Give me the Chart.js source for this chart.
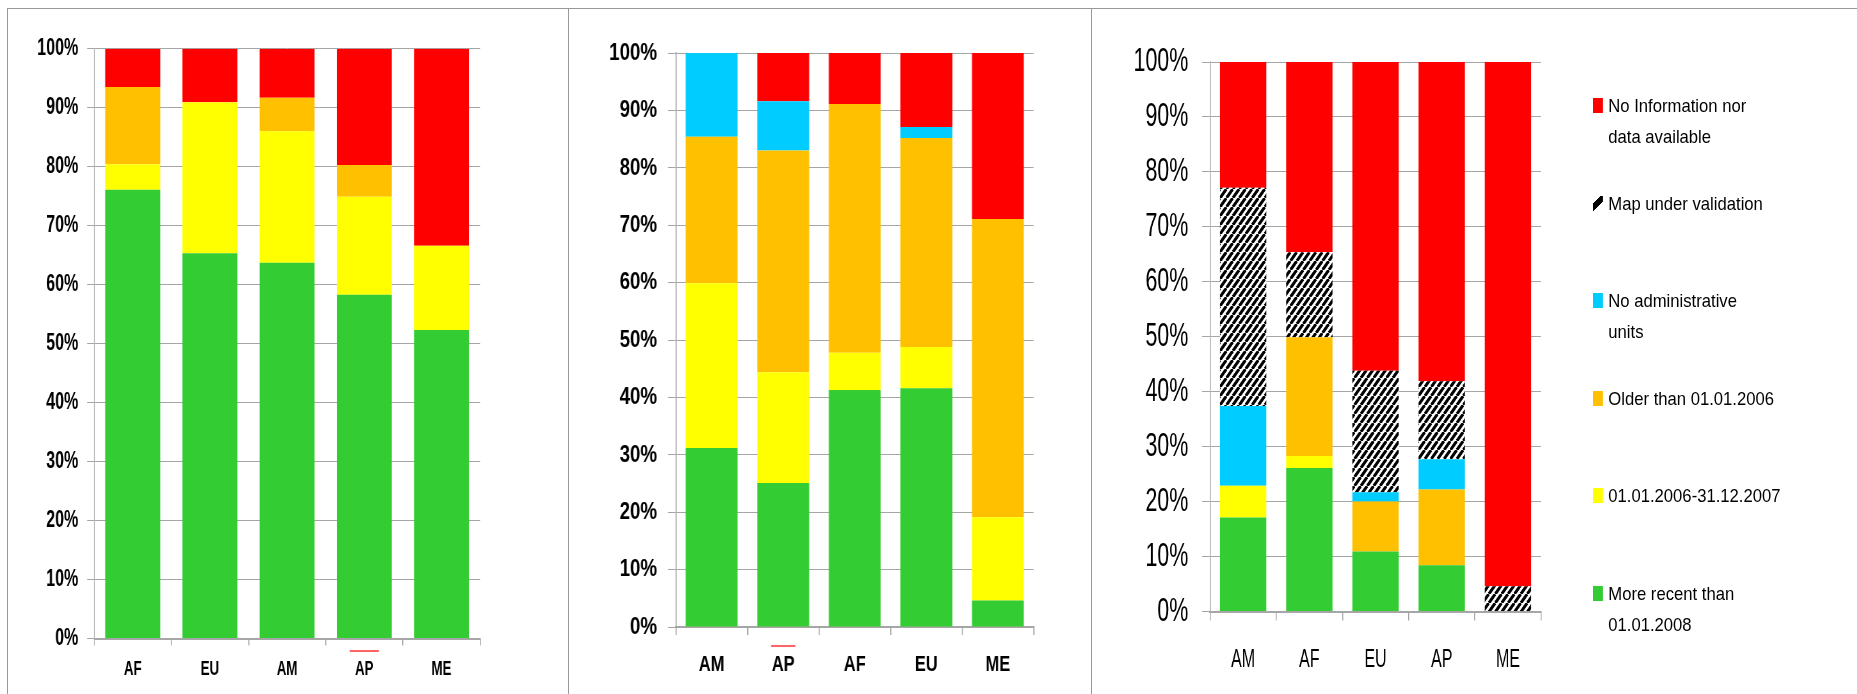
<!DOCTYPE html>
<html>
<head>
<meta charset="utf-8">
<script src="https://cdn.jsdelivr.net/npm/chart.js@4.4.1/dist/chart.umd.min.js"></script>
<style>
  body { margin: 0; width: 1857px; height: 694px; background: #fff; position: relative; overflow: hidden;
         font-family: 'Liberation Sans', Arial, sans-serif; }
  .panel { position: absolute; top: 8px; height: 686px; box-sizing: border-box; overflow: hidden;
           border-top: 1px solid #999; border-left: 1px solid #999; }
  .squeeze { position: absolute; left: 0; top: 0; height: 685px; transform-origin: 0 0; }
  #legend { position: absolute; left: 1593px; top: 90px; transform: scaleX(0.9); transform-origin: 0 0;
            font-size: 18.5px; line-height: 31px; color: #000; }
  .item { height: 97.6px; display: flex; align-items: flex-start; }
  .box { width: 11px; height: 15px; margin-top: 8px; margin-right: 6px; flex: none; }
  .txt { white-space: pre-line; }
</style>
</head>
<body>
<div class="panel" style="left:7px;width:561px">
  <div class="squeeze" style="width:823.5px;transform:scaleX(0.68)"><canvas id="chart1"></canvas></div>
</div>
<div class="panel" style="left:568px;width:523px">
  <div class="squeeze" style="width:686.8px;transform:scaleX(0.76)"><canvas id="chart2"></canvas></div>
</div>
<div class="panel" style="left:1091px;width:766px">
  <div class="squeeze" style="width:1195.3px;transform:scaleX(0.64)"><canvas id="chart3"></canvas></div>
</div>
<div id="legend"></div>

<script>
  // chart 1
  const regions1 = ['AF', 'EU', 'AM', 'AP', 'ME'];
  const green1  = [76.1, 65.3, 63.7, 58.3, 52.3];
  const yellow1 = [4.3, 25.6, 22.3, 16.6, 14.3];
  const orange1 = [13.1, 0, 5.7, 5.4, 0];
  const red1    = [6.5, 9.1, 8.3, 19.7, 33.4];

  // chart 2
  const regions2 = ['AM', 'AP', 'AF', 'EU', 'ME'];
  const green2  = [31.2, 25.1, 41.3, 41.6, 4.6];
  const yellow2 = [28.7, 19.3, 6.5, 7.2, 14.5];
  const orange2 = [25.5, 38.6, 43.3, 36.4, 52.0];
  const cyan2   = [14.6, 8.6, 0, 1.9, 0];
  const red2    = [0, 8.4, 8.9, 12.9, 28.9];

  // chart 3
  const regions3 = ['AM', 'AF', 'EU', 'AP', 'ME'];
  const green3  = [17.1, 26.1, 10.9, 8.4, 0];
  const yellow3 = [5.8, 2.2, 0, 0, 0];
  const orange3 = [0, 21.6, 9.1, 13.8, 0];
  const cyan3   = [14.5, 0, 1.7, 5.5, 0];
  const hatch3  = [39.7, 15.5, 22.1, 14.2, 4.6];
  const red3    = [22.9, 34.6, 56.2, 58.1, 95.4];

  const seriesNames = [
    'More recent than\n01.01.2008',
    '01.01.2006-31.12.2007',
    'Older than 01.01.2006',
    'No administrative\nunits',
    'Map under validation',
    'No Information nor\ndata available'
  ];
  const yTicks = [0, 10, 20, 30, 40, 50, 60, 70, 80, 90, 100];

  const GREEN = '#33cc33', YELLOW = '#ffff00', ORANGE = '#ffc000', CYAN = '#00ccff', RED = '#ff0000';
  const GRID = '#a6a6a6';
  const FONT = "'Liberation Sans', Arial, sans-serif";

  function makeHatch() {
    const w = 10, h = 9;
    const c = document.createElement('canvas');
    c.width = w; c.height = h;
    const g = c.getContext('2d');
    g.fillStyle = '#fff';
    g.fillRect(0, 0, w, h);
    g.strokeStyle = '#000';
    g.lineWidth = 3.9;
    [-w, 0, w].forEach(dx => {
      g.beginPath(); g.moveTo(dx, h); g.lineTo(dx + w, 0); g.stroke();
    });
    return g.createPattern(c, 'repeat');
  }
  const HATCH = makeHatch();

  // small red mark under one tick label, like in the source
  const underline = {
    id: 'underline',
    afterDraw(chart, args, opts) {
      const sx = chart.scales.x;
      const cx = sx.getPixelForTick(opts.index);
      const y = sx.top + opts.dy;
      const ctx = chart.ctx;
      ctx.save();
      ctx.strokeStyle = '#ff3030';
      ctx.lineWidth = 1.5;
      ctx.beginPath();
      ctx.moveTo(cx - opts.w / 2, y);
      ctx.lineTo(cx + opts.w / 2, y);
      ctx.stroke();
      ctx.restore();
    }
  };

  function ds(label, data, color, bp) {
    return { label: label, data: data, backgroundColor: color, borderWidth: 0,
             barPercentage: bp, categoryPercentage: 1 };
  }

  function config(labels, datasets, a) {
    return {
      type: 'bar',
      data: { labels: labels, datasets: datasets },
      options: {
        responsive: true,
        maintainAspectRatio: false,
        animation: false,
        events: [],
        layout: { padding: { left: 0, top: a.top, right: a.right, bottom: 0 } },
        plugins: {
          legend: { display: false },
          tooltip: { enabled: false },
          underline: a.mark
        },
        scales: {
          x: {
            stacked: true,
            grid: { drawOnChartArea: false, color: GRID, lineWidth: 1.5, tickLength: a.xtl },
            border: { color: GRID, width: 2 },
            ticks: { color: '#000', padding: a.xpad,
                     font: { family: FONT, size: a.xsize, weight: a.weight } },
            afterFit: s => { s.height = a.xh; }
          },
          y: {
            stacked: true,
            min: 0,
            max: 100,
            afterBuildTicks: s => { s.ticks = yTicks.map(v => ({ value: v })); },
            grid: { color: GRID, lineWidth: 1, tickLength: a.ytl },
            border: { color: GRID, width: 1.5 },
            ticks: { color: '#000', padding: a.ypad, callback: v => v + '%',
                     font: { family: FONT, size: a.ysize, weight: a.weight } },
            afterFit: s => { s.width = a.yw; }
          }
        }
      },
      plugins: a.mark ? [underline] : []
    };
  }

  const chart1 = new Chart(document.getElementById('chart1'), config(regions1, [
    ds(seriesNames[0], green1, GREEN, 0.712),
    ds(seriesNames[1], yellow1, YELLOW, 0.712),
    ds(seriesNames[2], orange1, ORANGE, 0.712),
    ds(seriesNames[5], red1, RED, 0.712)
  ], { top: 39.7, right: 130.1, yw: 126.5, ytl: 10.3, ypad: 12.8, ysize: 23.7,
       xh: 55.5, xtl: 7, xpad: 12, xsize: 19.5, weight: 'bold',
       mark: { index: 3, dy: 12.5, w: 43 } }));

  const chart2 = new Chart(document.getElementById('chart2'), config(regions2, [
    ds(seriesNames[0], green2, GREEN, 0.725),
    ds(seriesNames[1], yellow2, YELLOW, 0.725),
    ds(seriesNames[2], orange2, ORANGE, 0.725),
    ds(seriesNames[3], cyan2, CYAN, 0.725),
    ds(seriesNames[5], red2, RED, 0.725)
  ], { top: 44, right: 76.3, yw: 140.4, ytl: 10.5, ypad: 14.1, ysize: 24.7,
       xh: 67, xtl: 8, xpad: 17, xsize: 21.6, weight: 'bold',
       mark: { index: 1, dy: 19, w: 32 } }));

  const chart3 = new Chart(document.getElementById('chart3'), config(regions3, [
    ds(seriesNames[0], green3, GREEN, 0.70),
    ds(seriesNames[1], yellow3, YELLOW, 0.70),
    ds(seriesNames[2], orange3, ORANGE, 0.70),
    ds(seriesNames[3], cyan3, CYAN, 0.70),
    ds(seriesNames[4], hatch3, HATCH, 0.70),
    ds(seriesNames[5], red3, RED, 0.70)
  ], { top: 53, right: 493.7, yw: 184.4, ytl: 12.5, ypad: 21.4, ysize: 33.5,
       xh: 82.5, xtl: 9, xpad: 25, xsize: 25, weight: 'normal',
       mark: null }));

  // html legend for the third chart, top item = last series
  const legend = document.getElementById('legend');
  chart3.data.datasets.slice().reverse().forEach(d => {
    const item = document.createElement('div');
    item.className = 'item';
    const box = document.createElement('span');
    box.className = 'box';
    if (d.backgroundColor === HATCH) {
      box.style.background = 'linear-gradient(135deg, #fff 0 30%, #000 30% 62%, #fff 62%)';
    } else {
      box.style.background = d.backgroundColor;
    }
    const txt = document.createElement('span');
    txt.className = 'txt';
    txt.textContent = d.label;
    item.appendChild(box);
    item.appendChild(txt);
    legend.appendChild(item);
  });
</script>
</body>
</html>
